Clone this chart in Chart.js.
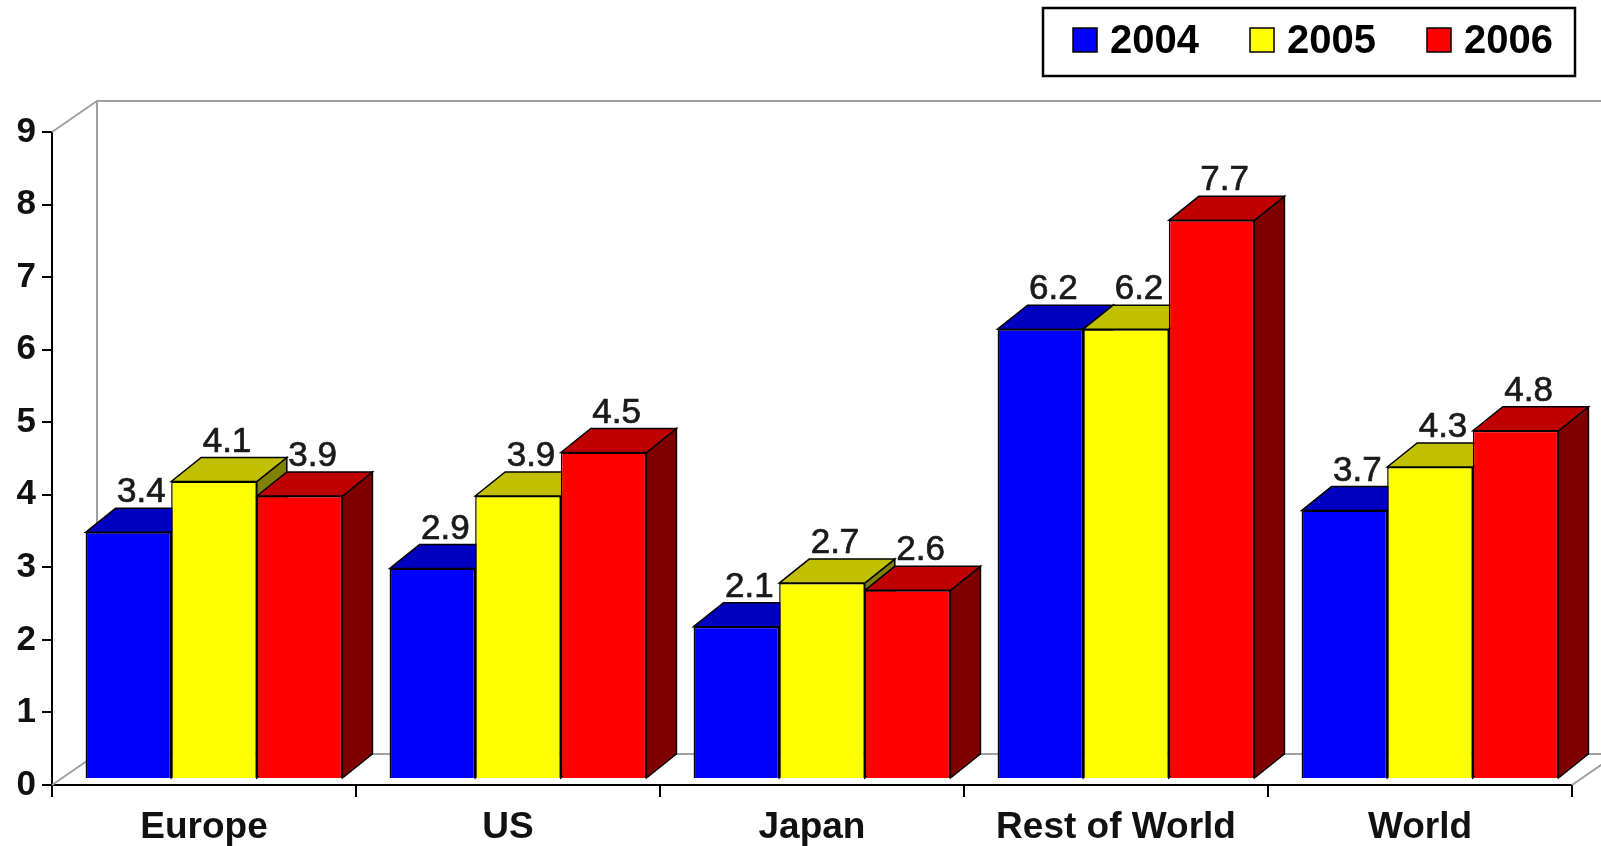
<!DOCTYPE html>
<html>
<head>
<meta charset="utf-8">
<script src="https://cdn.jsdelivr.net/npm/chart.js@4/dist/chart.umd.min.js"></script>
<style>
  html, body { margin: 0; padding: 0; background: #fff; }
  #wrap { width: 1601px; height: 846px; }
</style>
</head>
<body>
<div id="wrap"><canvas id="growth-chart" width="1601" height="846"></canvas></div>
<script>
const categories = ['Europe', 'US', 'Japan', 'Rest of World', 'World'];
const years      = ['2004', '2005', '2006'];
const values2004 = [3.4, 2.9, 2.1, 6.2, 3.7];
const values2005 = [4.1, 3.9, 2.7, 6.2, 4.3];
const values2006 = [3.9, 4.5, 2.6, 7.7, 4.8];
const yTicks     = [0, 1, 2, 3, 4, 5, 6, 7, 8, 9];

// front / top / side shades per series
const faceColors = [
  { front: '#0000ff', top: '#0000c0', side: '#000080' },
  { front: '#ffff00', top: '#c0c000', side: '#808000' },
  { front: '#ff0000', top: '#c00000', side: '#800000' },
];

const WALL  = { x: 45, y: -31 };  // depth of the back wall
const SHIFT = { x: 10, y: -6 };   // bars sit a little behind the front plane
const DEPTH = { x: 30, y: -24 };  // depth of each bar

const poly = (ctx, pts, fill) => {
  ctx.beginPath();
  ctx.moveTo(pts[0][0], pts[0][1]);
  pts.slice(1).forEach(p => ctx.lineTo(p[0], p[1]));
  ctx.closePath();
  ctx.fillStyle = fill;
  ctx.fill();
  ctx.stroke();
};

const threeD = {
  id: 'threeD',
  beforeDatasetsDraw(chart) {
    const { ctx, chartArea: a, width } = chart;

    // back wall and floor outline
    ctx.save();
    ctx.strokeStyle = '#a0a0a0';
    ctx.lineWidth = 2;
    ctx.beginPath();
    ctx.moveTo(a.left, a.top);
    ctx.lineTo(a.left + WALL.x, a.top + WALL.y);
    ctx.lineTo(width, a.top + WALL.y);
    ctx.moveTo(a.left + WALL.x, a.top + WALL.y);
    ctx.lineTo(a.left + WALL.x, a.bottom + WALL.y);
    ctx.lineTo(width, a.bottom + WALL.y);
    ctx.moveTo(a.left, a.bottom);
    ctx.lineTo(a.left + WALL.x, a.bottom + WALL.y);
    ctx.moveTo(a.right, a.bottom);
    ctx.lineTo(a.right + WALL.x, a.bottom + WALL.y);
    ctx.stroke();
    ctx.restore();

    // sides and tops, left to right so neighbours overlap properly
    ctx.save();
    ctx.translate(SHIFT.x, SHIFT.y);
    ctx.strokeStyle = '#000';
    ctx.lineWidth = 1.5;
    const metas = chart.getSortedVisibleDatasetMetas();
    for (let i = 0; i < categories.length; i++) {
      metas.forEach(meta => {
        const { x, y, base, width: w } = meta.data[i].getProps(['x', 'y', 'base', 'width'], true);
        const l = x - w / 2, r = x + w / 2;
        const c = faceColors[meta.index];
        poly(ctx, [[r, y], [r + DEPTH.x, y + DEPTH.y], [r + DEPTH.x, base + DEPTH.y], [r, base]], c.side);
        poly(ctx, [[l, y], [l + DEPTH.x, y + DEPTH.y], [r + DEPTH.x, y + DEPTH.y], [r, y]], c.top);
      });
    }
  },
  afterDatasetsDraw(chart) {
    const { ctx } = chart;
    // value labels above each bar
    ctx.font = '35px "Liberation Sans", Arial, sans-serif';
    ctx.fillStyle = '#1a1a1a';
    ctx.strokeStyle = '#1a1a1a';
    ctx.lineWidth = 0.7;
    ctx.textAlign = 'center';
    ctx.textBaseline = 'alphabetic';
    chart.getSortedVisibleDatasetMetas().forEach(meta => {
      const data = chart.data.datasets[meta.index].data;
      meta.data.forEach((bar, i) => {
        const { x, y } = bar.getProps(['x', 'y'], true);
        const txt = data[i].toFixed(1);
        ctx.fillText(txt, x + 13, y - 30);
        ctx.strokeText(txt, x + 13, y - 30);
      });
    });
    ctx.restore();
  },
  afterDraw(chart) {
    const { ctx } = chart;
    // boxed legend, top right
    ctx.save();
    ctx.strokeStyle = '#000';
    ctx.lineWidth = 2.5;
    ctx.strokeRect(1043, 8, 532, 68);
    ctx.font = 'bold 40px "Liberation Sans", Arial, sans-serif';
    ctx.textBaseline = 'middle';
    ctx.textAlign = 'left';
    chart.data.datasets.forEach((ds, k) => {
      const x0 = 1073 + k * 177;
      ctx.fillStyle = ds.backgroundColor;
      ctx.lineWidth = 1.5;
      ctx.fillRect(x0, 28, 24, 24);
      ctx.strokeRect(x0, 28, 24, 24);
      ctx.fillStyle = '#000';
      ctx.fillText(ds.label, x0 + 37, 42);
    });
    ctx.restore();
  }
};

const series = [values2004, values2005, values2006];

new Chart(document.getElementById('growth-chart').getContext('2d'), {
  type: 'bar',
  data: {
    labels: categories,
    datasets: series.map((data, k) => ({
      label: years[k],
      data,
      backgroundColor: faceColors[k].front,
      borderColor: '#000',
      borderWidth: 1.5,
      categoryPercentage: 0.845,
      barPercentage: 1,
      clip: false,
    })),
  },
  options: {
    responsive: false,
    animation: false,
    layout: { padding: { top: 132, right: 29, left: 0, bottom: 0 } },
    plugins: {
      legend: { display: false },
      tooltip: { enabled: false },
    },
    scales: {
      x: {
        afterFit: scale => { scale.height = 61; },
        grid: { drawOnChartArea: false, offset: true, tickLength: 12, color: '#000', lineWidth: 2 },
        border: { color: '#000', width: 2 },
        ticks: {
          color: '#111',
          padding: 9,
          font: { family: '"Liberation Sans", Arial, sans-serif', size: 37, weight: 'bold' },
        },
      },
      y: {
        min: yTicks[0],
        max: yTicks[yTicks.length - 1],
        afterFit: scale => { scale.width = 52; },
        afterBuildTicks: scale => { scale.ticks = yTicks.map(v => ({ value: v })); },
        grid: { drawOnChartArea: false, tickLength: 10, color: '#000', lineWidth: 2 },
        border: { color: '#000', width: 2 },
        ticks: {
          color: '#111',
          padding: 6,
          font: { family: '"Liberation Sans", Arial, sans-serif', size: 35, weight: 'bold' },
        },
      },
    },
  },
  plugins: [threeD],
});
</script>
</body>
</html>
